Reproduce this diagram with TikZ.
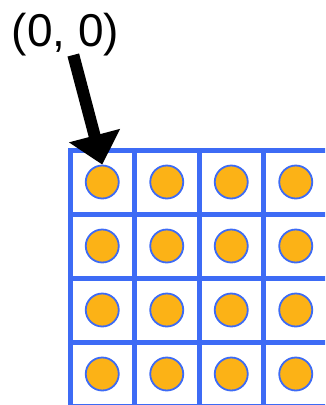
\documentclass[tikz,border=0pt]{standalone}
\usepackage{fontspec}
\setmainfont{Liberation Sans}
\usetikzlibrary{arrows.meta}
\definecolor{gridblue}{RGB}{61,107,245}
\definecolor{dotorange}{RGB}{252,178,22}
\tikzset{
  gridline/.style={draw=gridblue, line width=5pt, line cap=rect},
  dot/.style={circle, draw=gridblue, line width=1.8pt, fill=dotorange, minimum size=33pt, inner sep=0pt},
  pointer/.style={draw=black, line width=12pt, -{Triangle[length=30pt,width=51pt]}},
  lbl/.style={font=\fontsize{46}{50}\selectfont, inner sep=0pt, anchor=base}
}
\begin{document}
\begin{tikzpicture}[x=1pt,y=-1pt]
\useasboundingbox (0,0) rectangle (325,405);
\clip (0,0) rectangle (325,405);
\fill[white] (0,0) rectangle (325,405);
\foreach \i in {0,...,4} {
  \draw[gridline] ({70+64.5*\i},150) -- ({70+64.5*\i},420);
  \draw[gridline] (70,{150+64*\i}) -- (340,{150+64*\i});
}
\foreach \r in {0,...,3} {
  \foreach \c in {0,...,3} {
    \node[dot] (c\r\c) at ({102.25+64.5*\c},{182+64*\r}) {};
  }
}
\node[lbl] (label) at (65.5,46) {(0, 0)};
\coordinate (start) at (73.3,55);
\draw[pointer] (start) -- (c00.north);
\end{tikzpicture}
\end{document}
